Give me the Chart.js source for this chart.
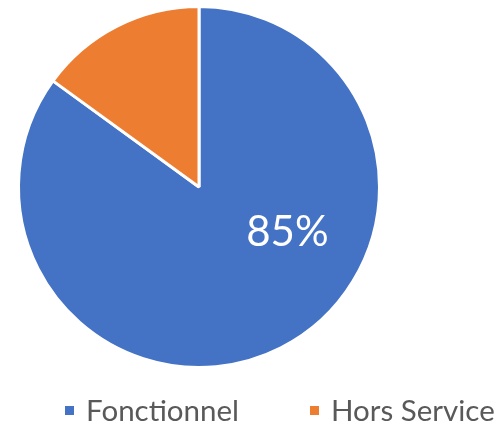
<!DOCTYPE html>
<html>
<head>
<meta charset="utf-8">
<script src="https://cdn.jsdelivr.net/npm/chart.js@4/dist/chart.umd.min.js"></script>
<style>
  html, body { margin: 0; padding: 0; background: #fff; }
  #wrap { position: relative; width: 495px; height: 421px; }
  #legend { position: absolute; left: 65px; top: 392px; line-height: 36px; display: flex; font-family: Lato, sans-serif; font-size: 29.5px; color: #595959; white-space: nowrap; }
  .item { display: flex; align-items: center; margin-right: 71px; }
  .sw { width: 9px; height: 9px; margin-right: 12px; }
</style>
</head>
<body>
<div id="wrap">
  <canvas id="pieChart" width="495" height="421"></canvas>
  <div id="legend"></div>
</div>
<script>
// chart data
const categories = ['Fonctionnel', 'Hors Service'];
const values = [85, 15];
const sliceColors = ['#4472C4', '#ED7D31'];
const dataLabels = ['85%', ''];

// draws the percentage text inside the slices
const sliceLabels = {
    id: 'sliceLabels',
    afterDatasetsDraw(chart) {
        const ctx = chart.ctx;
        const arcs = chart.getDatasetMeta(0).data;
        ctx.save();
        ctx.fillStyle = '#fff';
        ctx.font = '42px Lato, sans-serif';
        ctx.textAlign = 'center';
        ctx.textBaseline = 'middle';
        arcs.forEach((arc, i) => {
            if (!dataLabels[i]) return;
            const r = arc.outerRadius;
            ctx.fillText(dataLabels[i], arc.x + r * 0.49, arc.y + r * 0.25);
        });
        ctx.restore();
    }
};

new Chart(document.getElementById('pieChart'), {
    type: 'pie',
    data: {
        labels: categories,
        datasets: [{
            data: values,
            backgroundColor: sliceColors,
            borderColor: '#fff',
            borderWidth: 3
        }]
    },
    options: {
        responsive: false,
        animation: false,
        layout: { padding: { left: 17, right: 114, top: 5, bottom: 52 } },
        plugins: {
            legend: { display: false },
            tooltip: { enabled: false }
        }
    },
    plugins: [sliceLabels]
});

// legend below the pie
document.getElementById('legend').innerHTML = categories.map((name, i) => `
    <div class="item"><div class="sw" style="background:${sliceColors[i]}"></div>${name}</div>
`).join('');
</script>
</body>
</html>
